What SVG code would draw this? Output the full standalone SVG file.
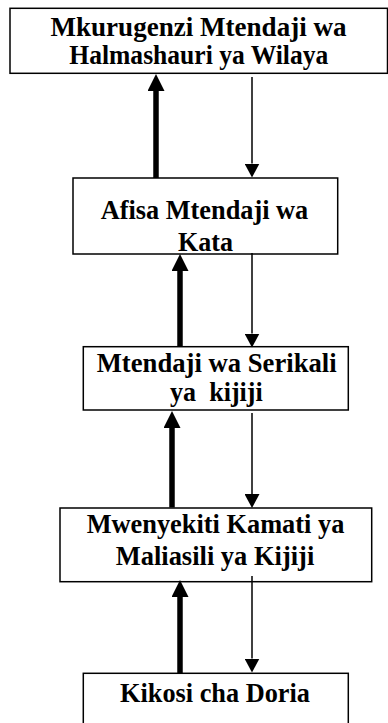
<svg xmlns="http://www.w3.org/2000/svg" width="388" height="723" viewBox="0 0 388 723">
<style>
.box{fill:#fff;stroke:#000;stroke-width:1.5}
.t{font-family:'Liberation Serif','Times New Roman',serif;font-weight:700;font-size:26.5px;fill:#000;text-anchor:middle}
.up{stroke:#000;stroke-width:5.5;fill:none}
.down{stroke:#000;stroke-width:1.5;fill:none}
</style>
<defs>
<marker id="hUp" viewBox="0 -8.5 17 17" refX="0" refY="0" markerWidth="17" markerHeight="17" markerUnits="userSpaceOnUse" orient="auto">
<path d="M0,-8.5 L17,0 L0,8.5 z" fill="#000"/>
</marker>
<marker id="hDown" viewBox="0 -7.5 14 15" refX="0" refY="0" markerWidth="14" markerHeight="15" markerUnits="userSpaceOnUse" orient="auto">
<path d="M0,-7.5 L14,0 L0,7.5 z" fill="#000"/>
</marker>
</defs>
<rect width="388" height="723" fill="#fff"/>
<g id="n1">
<rect class="box" x="10" y="8.3" width="377.5" height="65"/>
<text class="t" x="198.5" y="35.5" textLength="296" lengthAdjust="spacingAndGlyphs">Mkurugenzi Mtendaji wa</text>
<text class="t" x="198.8" y="64" textLength="259" lengthAdjust="spacingAndGlyphs">Halmashauri ya Wilaya</text>
</g>
<g id="n2">
<rect class="box" x="73" y="178" width="264.7" height="76"/>
<text class="t" x="204.5" y="218.5" textLength="207.6" lengthAdjust="spacingAndGlyphs">Afisa Mtendaji wa</text>
<text class="t" x="205.5" y="251" textLength="55" lengthAdjust="spacingAndGlyphs">Kata</text>
</g>
<g id="n3">
<rect class="box" x="83.3" y="346.7" width="265" height="63.3"/>
<text class="t" x="216.7" y="371.7" textLength="240" lengthAdjust="spacingAndGlyphs">Mtendaji wa Serikali</text>
<text class="t" x="216.4" y="400.5" xml:space="preserve" textLength="92.7" lengthAdjust="spacingAndGlyphs">ya  kijiji</text>
</g>
<g id="n4">
<rect class="box" x="60" y="508" width="311.7" height="73.7"/>
<text class="t" x="215.5" y="533" textLength="257.7" lengthAdjust="spacingAndGlyphs">Mwenyekiti Kamati ya</text>
<text class="t" x="215" y="565" textLength="198.6" lengthAdjust="spacingAndGlyphs">Maliasili ya Kijiji</text>
</g>
<g id="n5">
<rect class="box" x="83.3" y="673.3" width="265" height="60"/>
<text class="t" x="215" y="701.7" textLength="190" lengthAdjust="spacingAndGlyphs">Kikosi cha Doria</text>
</g>
<g id="connectors">
<line class="up" x1="156" y1="178" x2="156" y2="91" marker-end="url(#hUp)"/>
<line class="down" x1="252" y1="77" x2="252" y2="163.5" marker-end="url(#hDown)"/>
<line class="up" x1="180" y1="347" x2="180" y2="271" marker-end="url(#hUp)"/>
<line class="down" x1="252" y1="253" x2="252" y2="333.5" marker-end="url(#hDown)"/>
<line class="up" x1="172" y1="507.5" x2="172" y2="428" marker-end="url(#hUp)"/>
<line class="down" x1="252" y1="413" x2="252" y2="494" marker-end="url(#hDown)"/>
<line class="up" x1="180" y1="673.5" x2="180" y2="597" marker-end="url(#hUp)"/>
<line class="down" x1="252" y1="576" x2="252" y2="658.5" marker-end="url(#hDown)"/>
</g>
</svg>
